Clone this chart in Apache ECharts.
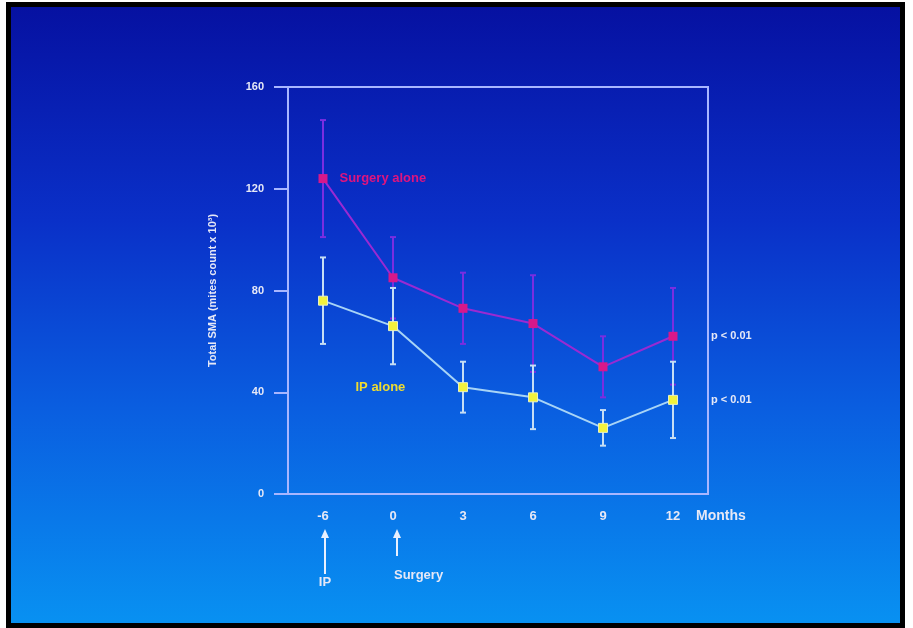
<!DOCTYPE html>
<html>
<head>
<meta charset="utf-8">
<script src="https://cdn.jsdelivr.net/npm/echarts@6/dist/echarts.min.js"></script>
<style>
  html, body { margin: 0; padding: 0; background: #fff; }
  #wrap { position: relative; width: 913px; height: 628px; overflow: hidden; }
  #chart {
    position: absolute; left: 0; top: 0; width: 913px; height: 628px;
    background: linear-gradient(#0610a0 0%, #0a30c8 35%, #0a5ee0 65%, #0892f2 100%);
  }
  #frame {
    position: absolute; left: 6px; top: 2px; width: 899px; height: 626px;
    box-sizing: border-box; border: 5px solid #000; outline: 20px solid #fff;
    pointer-events: none;
  }
</style>
</head>
<body>
<div id="wrap">
  <div id="chart"></div>
  <div id="frame"></div>
</div>
<script>
// months relative to surgery
const months = ["-6", "0", "3", "6", "9", "12"];
const surgeryMean = [124, 85, 73, 67, 50, 62];
const surgeryErr = [23, 16, 14, 19, 12, 19];
const ipMean = [76, 66, 42, 38, 26, 37];
const ipErr = [17, 15, 10, 12.5, 7, 15];
const yTicks = [0, 40, 80, 120, 160];

const textColor = "#e6e8f6";
const font = "Liberation Sans";

const chart = echarts.init(document.getElementById("chart"), null, { renderer: "canvas" });

const errorBars = (mean, err, color) => ({
  type: "custom",
  silent: true,
  z: 2,
  data: mean.map((m, i) => [i, m + err[i], m - err[i]]),
  renderItem: (params, api) => {
    const hi = api.coord([api.value(0), api.value(1)]);
    const lo = api.coord([api.value(0), api.value(2)]);
    const cap = 3;
    const style = { stroke: color, lineWidth: 2 };
    return {
      type: "group",
      children: [
        { type: "line", shape: { x1: hi[0], y1: hi[1], x2: lo[0], y2: lo[1] }, style },
        { type: "line", shape: { x1: hi[0] - cap, y1: hi[1], x2: hi[0] + cap, y2: hi[1] }, style },
        { type: "line", shape: { x1: lo[0] - cap, y1: lo[1], x2: lo[0] + cap, y2: lo[1] }, style },
      ],
    };
  },
});

const options = {
  backgroundColor: "transparent",
  animation: false,
  grid: {
    left: 288, right: 205, top: 87, bottom: 134,
    show: true, borderColor: "#a8b6ff", borderWidth: 2,
  },
  xAxis: {
    type: "category",
    data: months,
    boundaryGap: true,
    axisLine: { lineStyle: { color: "#a8b6ff", width: 2 } },
    axisTick: { show: false },
    axisLabel: { color: textColor, fontSize: 13, fontWeight: "bold", fontFamily: font, margin: 16 },
    name: "Months",
    nameLocation: "end",
    nameGap: -12,
    nameTextStyle: {
      color: textColor, fontSize: 14, fontWeight: "bold", fontFamily: font,
      verticalAlign: "top", padding: [15, 0, 0, 0],
    },
  },
  yAxis: {
    type: "value",
    min: 0, max: 160, interval: 40,
    splitLine: { show: false },
    axisLine: { show: true, lineStyle: { color: "#a8b6ff", width: 2 } },
    axisTick: { show: true, length: 14, lineStyle: { color: "#a8b6ff", width: 2 } },
    axisLabel: {
      color: textColor, fontSize: 11, fontWeight: "bold", fontFamily: font, margin: 24,
      formatter: (v) => (yTicks.includes(v) ? String(v) : ""),
    },
    name: "Total SMA (mites count x 10\u00b3)",
    nameLocation: "middle",
    nameGap: 70,
    nameTextStyle: { color: textColor, fontSize: 11, fontWeight: "bold", fontFamily: font },
  },
  series: [
    errorBars(surgeryMean, surgeryErr, "#7a2ee0"),
    errorBars(ipMean, ipErr, "#c6def4"),
    {
      name: "Surgery alone",
      type: "line",
      z: 3,
      data: surgeryMean.map((v, i) =>
        i === 0
          ? {
              value: v,
              label: {
                show: true, position: "right", distance: 12,
                formatter: "Surgery alone",
                color: "#e0147e", fontSize: 13, fontWeight: "bold", fontFamily: font,
              },
            }
          : v
      ),
      symbol: "rect",
      symbolSize: 9,
      itemStyle: { color: "#d8188a" },
      lineStyle: { color: "#9a2ad2", width: 2 },
      endLabel: {
        show: true, distance: 38, formatter: "p < 0.01",
        color: textColor, fontSize: 11, fontWeight: "bold", fontFamily: font,
      },
    },
    {
      name: "IP alone",
      type: "line",
      z: 3,
      data: ipMean,
      symbol: "rect",
      symbolSize: 9,
      itemStyle: { color: "#f2f23c", borderColor: "#e8f0c0", borderWidth: 1 },
      lineStyle: { color: "#a8d4f6", width: 2 },
      endLabel: {
        show: true, distance: 38, formatter: "p < 0.01",
        color: textColor, fontSize: 11, fontWeight: "bold", fontFamily: font,
      },
      markPoint: {
        symbol: "circle",
        symbolSize: 1,
        silent: true,
        itemStyle: { color: "rgba(0,0,0,0)" },
        data: [
          {
            coord: ["-6", 42],
            label: {
              show: true, formatter: "IP alone", position: "right", distance: 32,
              color: "#f0dc30", fontSize: 13, fontWeight: "bold", fontFamily: font,
            },
          },
        ],
      },
    },
  ],
};

chart.setOption(options);

// arrows below the axis marking IP and surgery time points
const arrow = (x, y1, y2, text, textY, textAlign) => ({
  type: "group",
  children: [
    { type: "line", shape: { x1: x, y1: y1 + 6, x2: x, y2: y2 }, style: { stroke: "#e8f0ff", lineWidth: 2 } },
    { type: "polygon", shape: { points: [[x, y1], [x - 4, y1 + 9], [x + 4, y1 + 9]] }, style: { fill: "#e8f0ff" } },
    {
      type: "text",
      style: {
        x: textAlign === "center" ? x : x - 3, y: textY, text,
        fill: textColor, font: "bold 13px " + font,
        align: textAlign, verticalAlign: "middle",
      },
    },
  ],
});

const xIP = chart.convertToPixel({ xAxisIndex: 0 }, "-6");
const xSurg = chart.convertToPixel({ xAxisIndex: 0 }, "0");
chart.setOption({
  graphic: [
    arrow(xIP + 2, 529, 574, "IP", 582, "center"),
    arrow(xSurg + 4, 529, 556, "Surgery", 575, "left"),
  ],
});
</script>
</body>
</html>
